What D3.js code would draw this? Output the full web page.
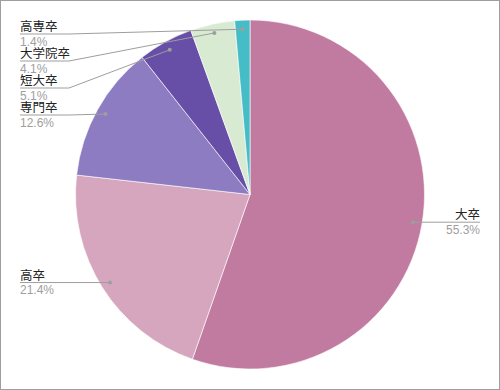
<!DOCTYPE html>
<html>
<head>
<meta charset="utf-8">
<script src="https://cdn.jsdelivr.net/npm/d3@7"></script>
<style>
  body { margin: 0; background: #fff; }
  svg { display: block; font-family: "Liberation Sans", Arial, "Noto Sans CJK JP", sans-serif; }
</style>
</head>
<body>
<div id="container"></div>
<script>
// data
var categories = ['大卒', '高卒', '専門卒', '短大卒', '大学院卒', '高専卒'];
var shares = [55.3, 21.4, 12.6, 5.1, 4.1, 1.4];
var colours = ['#c27ba0', '#d5a6bd', '#8e7cc3', '#674ea7', '#d9ead3', '#46bdc6'];

var width = 500, height = 390;
var cx = 250, cy = 194.5, radius = 174.5;

var svg = d3.select('#container').append('svg')
    .attr('width', width)
    .attr('height', height);

svg.append('rect')
    .attr('x', 0.5).attr('y', 0.5)
    .attr('width', width - 1).attr('height', height - 1)
    .attr('fill', '#fff')
    .attr('stroke', '#9e9e9e');

var rows = categories.map(function(c, i) { return {name: c, value: shares[i], colour: colours[i]}; });

var pie = d3.pie().sort(null).value(function(d) { return d.value; });
var arcs = pie(rows);

var arc = d3.arc().innerRadius(0).outerRadius(radius);
var dotArc = d3.arc().innerRadius(radius * 0.948).outerRadius(radius * 0.948);

var g = svg.append('g').attr('transform', 'translate(' + cx + ',' + cy + ')');

g.selectAll('path.slice')
    .data(arcs)
    .enter().append('path')
    .attr('class', 'slice')
    .attr('d', arc)
    .attr('fill', function(d) { return d.data.colour; })
    .attr('stroke', '#fff')
    .attr('stroke-width', 0.6);

// label layout: dot positions, then push labels apart on each side
var labels = arcs.map(function(d) {
    var p = dotArc.centroid(d);
    return {d: d, px: p[0] + cx, py: p[1] + cy, side: p[0] < 0 ? 'left' : 'right'};
});

['left', 'right'].forEach(function(side) {
    var list = labels.filter(function(l) { return l.side === side; })
        .sort(function(a, b) { return a.py - b.py; });
    var prev = -Infinity;
    list.forEach(function(l) {
        l.ly = Math.max(l.py, prev + 27, 34);
        prev = l.ly;
    });
});

var lg = svg.append('g');

labels.forEach(function(l) {
    var left = l.side === 'left';
    var textX = left ? 20 : 480;
    var kneeX = left ? 69 : 431;
    var grp = lg.append('g');

    grp.append('polyline')
        .attr('points', [[textX, l.ly], [kneeX, l.ly], [l.px, l.py]].map(function(p) { return p.join(','); }).join(' '))
        .attr('fill', 'none')
        .attr('stroke', '#9e9e9e')
        .attr('stroke-width', 1);

    grp.append('circle')
        .attr('cx', l.px).attr('cy', l.py)
        .attr('r', 2)
        .attr('fill', '#9e9e9e');

    grp.append('text')
        .attr('x', textX).attr('y', l.ly - 3)
        .attr('text-anchor', left ? 'start' : 'end')
        .attr('font-size', 12.5)
        .attr('fill', '#222')
        .text(l.d.data.name);

    grp.append('text')
        .attr('x', textX).attr('y', l.ly + 11.5)
        .attr('text-anchor', left ? 'start' : 'end')
        .attr('font-size', 12)
        .attr('fill', '#9e9e9e')
        .text(l.d.data.value.toFixed(1) + '%');
});
</script>
</body>
</html>
